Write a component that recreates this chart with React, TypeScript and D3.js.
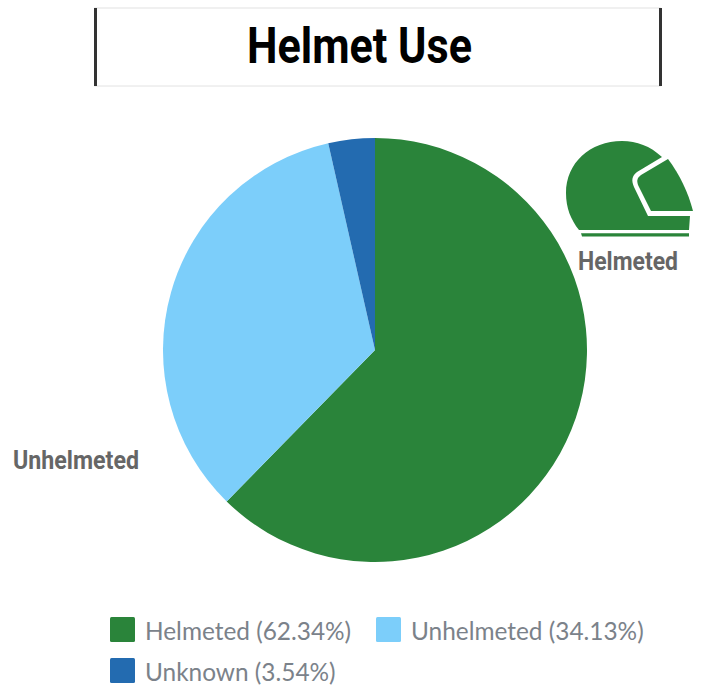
import React from "react";
import * as d3 from "d3";

const categories = ["Helmeted", "Unhelmeted", "Unknown"];
const shares = [62.34, 34.13, 3.54];
const colors = ["#2a843a", "#7ccefa", "#236bb0"];
const legendLabels = ["Helmeted (62.34%)", "Unhelmeted (34.13%)", "Unknown (3.54%)"];

const width = 725;
const height = 686;

// helmet icon outlines
const helmetShell =
  "M662 157 C650 146 637 141 622 141 C590 141 566 163 566 193 C566 208 571 220 579 230 L689 230 L690 216 L648 216 L634 187 C631 180 632 176 637 172 Z";
const helmetVisor = "M668 159 C680 175 688 192 693 211 L651 211 L639 187 C636 181 637 178 641 175 Z";
const helmetStripe = "M581 233.2 L689 233.2 L689 236.5 L582 236.5 Z";

export default function App() {
  const pie = d3.pie<number>().sort(null);
  const arc = d3.arc<d3.PieArcDatum<number>>().innerRadius(0).outerRadius(212);
  const slices = pie(shares);

  const swatchPos = [
    [110, 617],
    [376, 617],
    [110, 658],
  ];

  return (
    <svg
      width={width}
      height={height}
      style={{ position: "absolute", left: 0, top: 0, background: "#fff" }}
    >
      {/* title box */}
      <rect x={95} y={8} width={565} height={78} fill="#fff" stroke="#ececec" strokeWidth={1.5} />
      <rect x={94} y={8} width={3} height={78} fill="#333" />
      <rect x={659} y={8} width={3} height={78} fill="#333" />
      <text
        x={247}
        y={63}
        fontFamily="Roboto"
        fontWeight={700}
        fontSize={50}
        textLength={225}
        lengthAdjust="spacingAndGlyphs"
        fill="#000"
      >
        Helmet Use
      </text>

      <g transform="translate(375,350)">
        {slices.map((d, i) => (
          <path key={categories[i]} d={arc(d) ?? ""} fill={colors[i]} />
        ))}
      </g>

      {/* helmet icon */}
      <path d={helmetShell} fill={colors[0]} />
      <path d={helmetVisor} fill={colors[0]} />
      <path d={helmetStripe} fill={colors[0]} />

      <text
        x={578}
        y={270}
        fontFamily="Roboto"
        fontWeight={700}
        fontSize={25}
        textLength={100}
        lengthAdjust="spacingAndGlyphs"
        fill="#666"
      >
        {categories[0]}
      </text>
      <text
        x={13}
        y={469}
        fontFamily="Roboto"
        fontWeight={700}
        fontSize={25}
        textLength={126}
        lengthAdjust="spacingAndGlyphs"
        fill="#666"
      >
        {categories[1]}
      </text>

      {/* legend */}
      {legendLabels.map((label, i) => (
        <g key={label}>
          <rect x={swatchPos[i][0]} y={swatchPos[i][1]} width={25} height={25} rx={1.5} fill={colors[i]} />
          <text x={swatchPos[i][0] + 35} y={swatchPos[i][1] + 23} fontFamily="Lato" fontSize={24.4} fill="#7b828a">
            {label}
          </text>
        </g>
      ))}
    </svg>
  );
}
